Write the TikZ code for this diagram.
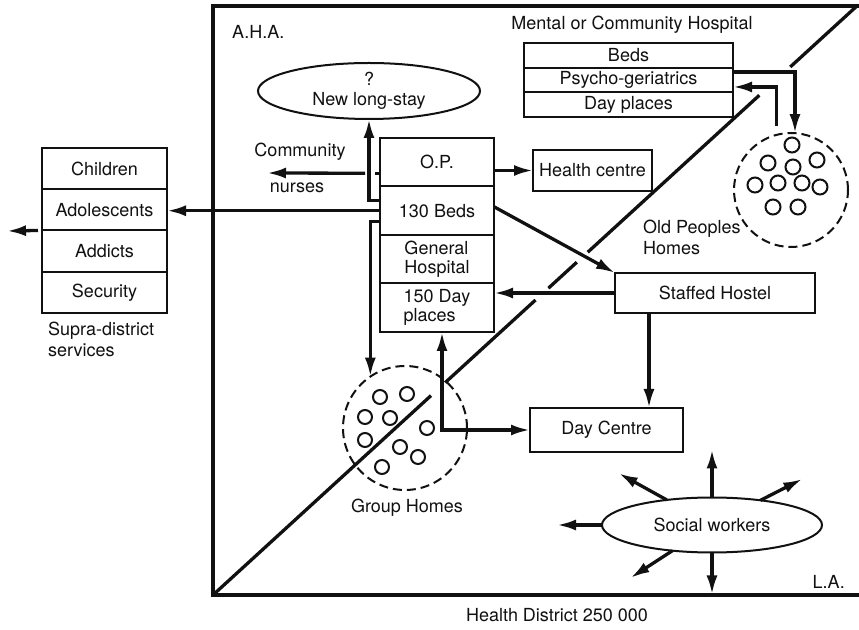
\documentclass[tikz,border=0pt]{standalone}
\usepackage{fontspec}
\setmainfont{TeX Gyre Heros}
\usepackage{tikz}
\usetikzlibrary{calc,positioning,arrows.meta,shapes.geometric}
\definecolor{ink}{HTML}{111111}
\tikzset{
  every node/.style={text=ink, font=\fontsize{18}{19}\selectfont},
  >={Latex[length=19pt,width=11pt]},
  row/.style={draw=ink, line width=2pt, inner sep=0pt, outer sep=0pt, align=center},
  hrow/.style={row, minimum width=114pt, minimum height=48.5pt, align=left},
  srow/.style={row, minimum width=125pt, minimum height=41.25pt},
  mrow/.style={row, minimum width=209pt, minimum height=24.67pt},
  box/.style={draw=ink, line width=2pt, inner sep=0pt, outer sep=0pt},
  oval/.style={ellipse, draw=ink, line width=2pt, inner sep=0pt, outer sep=0pt, align=center},
  ring/.style={circle, draw=ink, dash pattern=on 9pt off 5pt, line width=2pt, inner sep=0pt, outer sep=0pt},
  home/.style={draw=ink, line width=2pt},
  flow/.style={draw=ink, line width=3.3pt, ->},
  stub/.style={draw=ink, line width=3.3pt},
  frame/.style={draw=ink, line width=3.8pt},
  divide/.style={draw=ink, line width=3.3pt},
  lab/.style={inner sep=0pt}
}

\begin{document}
\begin{tikzpicture}[x=1pt,y=1pt]
  \fill[white] (0,0) rectangle (859,629);
  \useasboundingbox (0,0) rectangle (859,629);

  % district frame, A.H.A. above the divide, L.A. below
  \coordinate (tl) at (213,623);
  \coordinate (bl) at (213,34);
  \coordinate (dB) at (858,624);
  \draw[frame] (859,623) -- (tl) -- (bl) -- (859,34);
  \foreach \s/\e in {0/0.338, 0.360/0.500, 0.520/0.564, 0.581/0.847, 0.895/1}
    \draw[divide] ($(bl)!\s!(dB)$) -- ($(bl)!\e!(dB)$);

  \node[lab, anchor=west] (aha) at (232,597) {A.H.A.};
  \node[lab, anchor=east] (la) at (845,47) {L.A.};
  \node[lab] (district) at (557,14) {Health District 250 000};

  % mental or community hospital
  \node[lab] (mentlab) at (632,604) {Mental or Community Hospital};
  \node[mrow] (mbeds) at (628.5,573.7) {Beds};
  \node[mrow, below=0pt of mbeds] (psycho) {Psycho-geriatrics};
  \node[mrow, below=0pt of psycho] (mday) {Day places};

  % general hospital
  \node[hrow] (op) at (437,466.75) {O.P.};
  \node[hrow, below=0pt of op] (beds) {130 Beds};
  \node[hrow, below=0pt of beds] (genhosp) {General\\Hospital};
  \node[hrow, below=0pt of genhosp] (dayp) {150 Day\\places};

  \node[oval, minimum width=222pt, minimum height=56pt] (longstay) at (369,538) {?\\[1pt]New long-stay};
  \node[box, minimum width=119pt, minimum height=41pt] (hc) at (592.5,458.5) {Health centre};
  \node[box, minimum width=200pt, minimum height=40pt] (hostel) at (715,336) {Staffed Hostel};
  \node[box, minimum width=153pt, minimum height=44pt] (daycentre) at (606.5,199) {Day Centre};
  \node[oval, minimum width=220pt, minimum height=55pt] (sw) at (712,104) {Social workers};

  % supra-district services
  \node[srow] (children) at (104.5,460.4) {Children};
  \node[srow, below=0pt of children] (adol) {Adolescents};
  \node[srow, below=0pt of adol] (addicts) {Addicts};
  \node[srow, below=0pt of addicts] (security) {Security};
  \node[lab, anchor=north west, align=left, font=\fontsize{18}{21}\selectfont] (supralab) at (48,307) {Supra-district\\services};

  % homes
  \node[ring, minimum size=114pt] (opcirc) at (791,439) {};
  \foreach \dx/\dy in {1/45, -23/27, 26/30, 2/23, -36/5, -13/7, 11/7, 29/3, -18/-17, 7/-17}
    \draw[home] ($(opcirc)+(\dx,\dy)$) circle (7.5);
  \node[lab, anchor=west, align=left, font=\fontsize{18}{21}\selectfont] (oplab) at (643,392) {Old Peoples\\Homes};

  \node[ring, minimum size=124pt] (ghcirc) at (405,201) {};
  \foreach \dx/\dy in {-25/31, 2/34, -40/11, -15/10, -40/-12, 22/0, -5/-19, 13/-29, -23/-39}
    \draw[home] ($(ghcirc)+(\dx,\dy)$) circle (7);
  \node[lab] (ghlab) at (407,121) {Group Homes};

  % flows
  \draw[flow] ([yshift=10pt]beds.west) -| (longstay.south);
  \draw[flow] (beds.west) -- (beds.west -| adol.east);
  \draw[flow] ([yshift=-11pt]beds.west) -| (ghcirc.124);
  \coordinate (nurseend) at (267,456);
  \draw[stub] ([yshift=-11pt]op.west) -- ([xshift=-5pt,yshift=-11pt]op.west);
  \draw[flow] ([xshift=-15pt,yshift=-11pt]op.west) -- (nurseend);
  \node[lab] (community) at (300,477) {Community};
  \node[lab] (nurses) at (297,441) {nurses};

  \draw[flow] (op.east |- hc.west) -- (hc.west);
  \draw[flow] ([yshift=4pt]beds.east) -- (hostel.north west);
  \draw[flow] (hostel.west) -- (hostel.west -| dayp.east);
  \draw[flow] ([xshift=-66pt]hostel.south) -- ([xshift=-66pt]hostel.south |- daycentre.north);
  \coordinate (ghhub) at (442,199);
  \draw[flow, <->] (ghhub |- dayp.south) -- (ghhub) -- (daycentre.west);

  \draw[flow] ([yshift=8pt]psycho.east) -| (opcirc.86);
  \draw[flow] ([yshift=9pt]opcirc.105) |- ([yshift=-7pt]psycho.east);

  \coordinate (supraout) at (7,398);
  \draw[flow] ([xshift=-4pt]addicts.north west) -- (supraout);

  \foreach \a/\l in {90/48, 27/47, 151/55, 180/45, 213/50, 270/42}
    \draw[flow] (sw.\a) -- ++(\a:\l);
\end{tikzpicture}
\end{document}
